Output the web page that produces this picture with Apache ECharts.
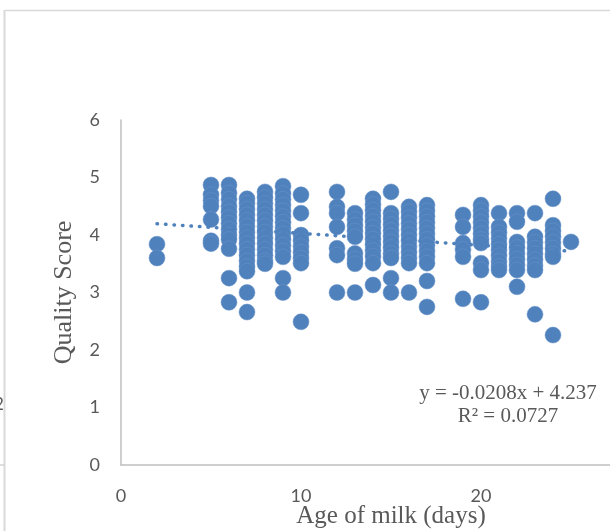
<!DOCTYPE html>
<html>
<head>
<meta charset="utf-8">
<script src="https://cdn.jsdelivr.net/npm/echarts@6/dist/echarts.min.js"></script>
<style>
html,body{margin:0;padding:0;background:#fff;}
#c{width:610px;height:531px;}
</style>
</head>
<body>
<div id="c"></div>
<script>
// Age of milk (days) -> quality scores observed
const ages = [2, 5, 6, 7, 8, 9, 10, 12, 13, 14, 15, 16, 17, 19, 20, 21, 22, 23, 24, 25];
const scores = [
  [3.84, 3.6],
  [4.87, 4.7, 4.6, 4.5, 4.27, 3.9, 3.85],
  [4.87, 4.73, 4.62, 4.5, 4.4, 4.3, 4.2, 4.1, 4.0, 3.92, 3.76, 3.25, 2.83],
  [4.63, 4.55, 4.45, 4.35, 4.25, 4.15, 4.05, 3.95, 3.85, 3.75, 3.65, 3.55, 3.45, 3.37, 3.0, 2.66],
  [4.75, 4.65, 4.55, 4.45, 4.35, 4.25, 4.15, 4.05, 3.95, 3.85, 3.75, 3.65, 3.55, 3.5],
  [4.85, 4.72, 4.62, 4.52, 4.42, 4.32, 4.22, 4.12, 4.02, 3.92, 3.82, 3.72, 3.62, 3.25, 3.0],
  [4.7, 4.38, 4.0, 3.9, 3.8, 3.7, 3.6, 3.51, 2.49],
  [4.75, 4.49, 4.38, 4.14, 3.77, 3.65, 3.0],
  [4.38, 4.27, 4.17, 4.07, 3.97, 3.68, 3.58, 3.5, 3.0],
  [4.63, 4.53, 4.43, 4.33, 4.23, 4.13, 4.03, 3.93, 3.83, 3.73, 3.63, 3.51, 3.13],
  [4.75, 4.38, 4.28, 4.18, 4.08, 3.98, 3.88, 3.78, 3.68, 3.6, 3.25, 3.0],
  [4.49, 4.4, 4.3, 4.2, 4.1, 4.0, 3.9, 3.8, 3.7, 3.6, 3.51, 3.0],
  [4.52, 4.42, 4.32, 4.22, 4.12, 4.02, 3.92, 3.82, 3.72, 3.62, 3.51, 3.2, 2.75],
  [4.35, 4.14, 3.86, 3.75, 3.62, 2.89],
  [4.52, 4.42, 4.32, 4.22, 4.12, 4.02, 3.92, 3.86, 3.51, 3.39, 2.83],
  [4.38, 4.14, 4.04, 3.94, 3.84, 3.74, 3.64, 3.54, 3.45, 3.39],
  [4.38, 4.23, 3.88, 3.78, 3.68, 3.58, 3.48, 3.39, 3.1],
  [4.38, 3.97, 3.87, 3.77, 3.67, 3.57, 3.47, 3.39, 2.62],
  [4.63, 4.17, 4.07, 3.97, 3.87, 3.77, 3.67, 3.62, 2.26],
  [3.88]
];
const slope = -0.0208;
const intercept = 4.237;
const trendX = [2, 25];
const xTicks = [0, 10, 20, 30];
const yTicks = [0, 1, 2, 3, 4, 5, 6];

const points = [];
ages.forEach((a, i) => scores[i].forEach(v => points.push([a, v])));
const trend = trendX.map(x => [x, slope * x + intercept]);

const chart = echarts.init(document.getElementById('c'), null, {renderer: 'canvas'});
const gray = '#595959';
chart.setOption({
  animation: false,
  backgroundColor: '#fff',
  grid: {left: 121, top: 120, bottom: 66, right: -51, containLabel: false, outerBoundsMode: 'none'},
  xAxis: {
    type: 'value', min: xTicks[0], max: xTicks[xTicks.length - 1], interval: 10,
    name: 'Age of milk (days)', nameLocation: 'middle', nameGap: 39, nameMoveOverlap: false,
    nameTextStyle: {fontFamily: 'Liberation Serif', fontSize: 25, color: gray},
    axisLine: {show: true, lineStyle: {color: '#bfbfbf', width: 1.5}},
    axisTick: {show: false},
    splitLine: {show: false},
    axisLabel: {margin: 22, fontFamily: 'Lato', fontSize: 18, color: gray}
  },
  yAxis: {
    type: 'value', min: yTicks[0], max: yTicks[yTicks.length - 1], interval: 1,
    name: 'Quality Score', nameLocation: 'middle', nameGap: 44,
    nameTextStyle: {fontFamily: 'Liberation Serif', fontSize: 26, color: gray},
    axisLine: {show: true, lineStyle: {color: '#bfbfbf', width: 1.5}},
    axisTick: {show: false},
    splitLine: {show: false},
    axisLabel: {margin: 21, fontFamily: 'Lato', fontSize: 18, color: gray}
  },
  series: [
    {
      type: 'scatter', data: points, symbol: 'circle', symbolSize: 16,
      itemStyle: {color: '#4f81bd', opacity: 1, borderColor: '#6a94c8', borderWidth: 0.5}
    },
    {
      type: 'line', data: trend, showSymbol: false, z: 3,
      lineStyle: {color: '#4f81bd', width: 3.5, type: [0.5, 8], cap: 'round'}
    }
  ],
  graphic: [
    {type: 'line', shape: {x1: 5, y1: 10.5, x2: 610, y2: 10.5}, style: {stroke: '#d9d9d9', lineWidth: 1.5}},
    {type: 'line', shape: {x1: 4.5, y1: 10, x2: 4.5, y2: 531}, style: {stroke: '#d9d9d9', lineWidth: 2}},
    {type: 'line', shape: {x1: 0, y1: 465, x2: 4, y2: 465}, style: {stroke: '#bfbfbf', lineWidth: 1}},
    {type: 'text', x: -6, y: 396, style: {text: '2', font: '17px Lato', fill: gray}},
    {type: 'text', x: 508, y: 393, style: {text: 'y = -0.0208x + 4.237', font: '21px "Liberation Serif"', fill: gray, align: 'center', verticalAlign: 'middle'}},
    {type: 'text', x: 508, y: 416, style: {text: 'R² = 0.0727', font: '21px "Liberation Serif"', fill: gray, align: 'center', verticalAlign: 'middle'}}
  ]
});
</script>
</body>
</html>
